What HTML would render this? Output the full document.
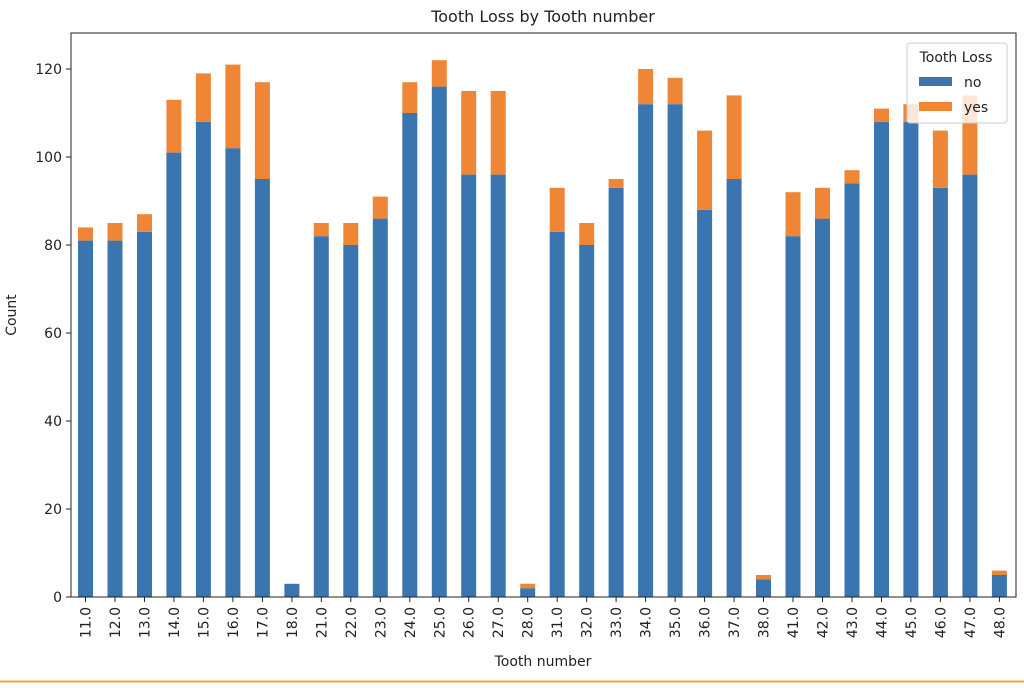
<!DOCTYPE html>
<html><head><meta charset="utf-8"><style>
body{margin:0;background:#fff;}
svg text{font-family:"DejaVu Sans","Liberation Sans",sans-serif;fill:#222;}
</style></head><body>
<svg width="1024" height="683" viewBox="0 0 1024 683" xmlns="http://www.w3.org/2000/svg">
<rect width="1024" height="683" fill="#fff"/>
<text x="543" y="22" font-size="16" text-anchor="middle">Tooth Loss by Tooth number</text>
<g transform="translate(0,597) scale(1,-4.4)">
<g fill="#3a75af">
<rect x="78" y="0" width="15" height="81"/>
<rect x="107.5" y="0" width="15" height="81"/>
<rect x="137" y="0" width="15" height="83"/>
<rect x="166.4" y="0" width="15" height="101"/>
<rect x="195.9" y="0" width="15" height="108"/>
<rect x="225.4" y="0" width="15" height="102"/>
<rect x="254.9" y="0" width="15" height="95"/>
<rect x="284.4" y="0" width="15" height="3"/>
<rect x="313.8" y="0" width="15" height="82"/>
<rect x="343.3" y="0" width="15" height="80"/>
<rect x="372.8" y="0" width="15" height="86"/>
<rect x="402.3" y="0" width="15" height="110"/>
<rect x="431.8" y="0" width="15" height="116"/>
<rect x="461.2" y="0" width="15" height="96"/>
<rect x="490.7" y="0" width="15" height="96"/>
<rect x="520.2" y="0" width="15" height="2"/>
<rect x="549.7" y="0" width="15" height="83"/>
<rect x="579.2" y="0" width="15" height="80"/>
<rect x="608.6" y="0" width="15" height="93"/>
<rect x="638.1" y="0" width="15" height="112"/>
<rect x="667.6" y="0" width="15" height="112"/>
<rect x="697.1" y="0" width="15" height="88"/>
<rect x="726.6" y="0" width="15" height="95"/>
<rect x="756" y="0" width="15" height="4"/>
<rect x="785.5" y="0" width="15" height="82"/>
<rect x="815" y="0" width="15" height="86"/>
<rect x="844.5" y="0" width="15" height="94"/>
<rect x="874" y="0" width="15" height="108"/>
<rect x="903.4" y="0" width="15" height="108"/>
<rect x="932.9" y="0" width="15" height="93"/>
<rect x="962.4" y="0" width="15" height="96"/>
<rect x="991.9" y="0" width="15" height="5"/>
</g>
<g fill="#ef8636">
<rect x="78" y="81" width="15" height="3"/>
<rect x="107.5" y="81" width="15" height="4"/>
<rect x="137" y="83" width="15" height="4"/>
<rect x="166.4" y="101" width="15" height="12"/>
<rect x="195.9" y="108" width="15" height="11"/>
<rect x="225.4" y="102" width="15" height="19"/>
<rect x="254.9" y="95" width="15" height="22"/>
<rect x="313.8" y="82" width="15" height="3"/>
<rect x="343.3" y="80" width="15" height="5"/>
<rect x="372.8" y="86" width="15" height="5"/>
<rect x="402.3" y="110" width="15" height="7"/>
<rect x="431.8" y="116" width="15" height="6"/>
<rect x="461.2" y="96" width="15" height="19"/>
<rect x="490.7" y="96" width="15" height="19"/>
<rect x="520.2" y="2" width="15" height="1"/>
<rect x="549.7" y="83" width="15" height="10"/>
<rect x="579.2" y="80" width="15" height="5"/>
<rect x="608.6" y="93" width="15" height="2"/>
<rect x="638.1" y="112" width="15" height="8"/>
<rect x="667.6" y="112" width="15" height="6"/>
<rect x="697.1" y="88" width="15" height="18"/>
<rect x="726.6" y="95" width="15" height="19"/>
<rect x="756" y="4" width="15" height="1"/>
<rect x="785.5" y="82" width="15" height="10"/>
<rect x="815" y="86" width="15" height="7"/>
<rect x="844.5" y="94" width="15" height="3"/>
<rect x="874" y="108" width="15" height="3"/>
<rect x="903.4" y="108" width="15" height="4"/>
<rect x="932.9" y="93" width="15" height="13"/>
<rect x="962.4" y="96" width="15" height="18"/>
<rect x="991.9" y="5" width="15" height="1"/>
</g>
</g>
<rect x="71" y="33" width="945" height="564" fill="none" stroke="#222" stroke-width="1"/>
<g stroke="#222" stroke-width="1">
<line x1="66" y1="597" x2="71" y2="597"/><line x1="66" y1="509" x2="71" y2="509"/><line x1="66" y1="421" x2="71" y2="421"/><line x1="66" y1="333" x2="71" y2="333"/><line x1="66" y1="245" x2="71" y2="245"/><line x1="66" y1="157" x2="71" y2="157"/><line x1="66" y1="69" x2="71" y2="69"/>
</g>
<g font-size="14" text-anchor="end">
<text x="62" y="602">0</text><text x="62" y="514">20</text><text x="62" y="426">40</text><text x="62" y="338">60</text><text x="62" y="250">80</text><text x="62" y="162">100</text><text x="62" y="74">120</text>
</g>
<g stroke="#222" stroke-width="1">
<line x1="85.5" y1="597" x2="85.5" y2="602"/><line x1="115" y1="597" x2="115" y2="602"/><line x1="144.5" y1="597" x2="144.5" y2="602"/><line x1="173.9" y1="597" x2="173.9" y2="602"/><line x1="203.4" y1="597" x2="203.4" y2="602"/><line x1="232.9" y1="597" x2="232.9" y2="602"/><line x1="262.4" y1="597" x2="262.4" y2="602"/><line x1="291.9" y1="597" x2="291.9" y2="602"/><line x1="321.3" y1="597" x2="321.3" y2="602"/><line x1="350.8" y1="597" x2="350.8" y2="602"/><line x1="380.3" y1="597" x2="380.3" y2="602"/><line x1="409.8" y1="597" x2="409.8" y2="602"/><line x1="439.3" y1="597" x2="439.3" y2="602"/><line x1="468.7" y1="597" x2="468.7" y2="602"/><line x1="498.2" y1="597" x2="498.2" y2="602"/><line x1="527.7" y1="597" x2="527.7" y2="602"/><line x1="557.2" y1="597" x2="557.2" y2="602"/><line x1="586.7" y1="597" x2="586.7" y2="602"/><line x1="616.1" y1="597" x2="616.1" y2="602"/><line x1="645.6" y1="597" x2="645.6" y2="602"/><line x1="675.1" y1="597" x2="675.1" y2="602"/><line x1="704.6" y1="597" x2="704.6" y2="602"/><line x1="734.1" y1="597" x2="734.1" y2="602"/><line x1="763.5" y1="597" x2="763.5" y2="602"/><line x1="793" y1="597" x2="793" y2="602"/><line x1="822.5" y1="597" x2="822.5" y2="602"/><line x1="852" y1="597" x2="852" y2="602"/><line x1="881.5" y1="597" x2="881.5" y2="602"/><line x1="910.9" y1="597" x2="910.9" y2="602"/><line x1="940.4" y1="597" x2="940.4" y2="602"/><line x1="969.9" y1="597" x2="969.9" y2="602"/><line x1="999.4" y1="597" x2="999.4" y2="602"/>
</g>
<g font-size="14" text-anchor="end">
<text transform="translate(90.5,607) rotate(-90)">11.0</text>
<text transform="translate(120,607) rotate(-90)">12.0</text>
<text transform="translate(149.5,607) rotate(-90)">13.0</text>
<text transform="translate(178.9,607) rotate(-90)">14.0</text>
<text transform="translate(208.4,607) rotate(-90)">15.0</text>
<text transform="translate(237.9,607) rotate(-90)">16.0</text>
<text transform="translate(267.4,607) rotate(-90)">17.0</text>
<text transform="translate(296.9,607) rotate(-90)">18.0</text>
<text transform="translate(326.3,607) rotate(-90)">21.0</text>
<text transform="translate(355.8,607) rotate(-90)">22.0</text>
<text transform="translate(385.3,607) rotate(-90)">23.0</text>
<text transform="translate(414.8,607) rotate(-90)">24.0</text>
<text transform="translate(444.3,607) rotate(-90)">25.0</text>
<text transform="translate(473.7,607) rotate(-90)">26.0</text>
<text transform="translate(503.2,607) rotate(-90)">27.0</text>
<text transform="translate(532.7,607) rotate(-90)">28.0</text>
<text transform="translate(562.2,607) rotate(-90)">31.0</text>
<text transform="translate(591.7,607) rotate(-90)">32.0</text>
<text transform="translate(621.1,607) rotate(-90)">33.0</text>
<text transform="translate(650.6,607) rotate(-90)">34.0</text>
<text transform="translate(680.1,607) rotate(-90)">35.0</text>
<text transform="translate(709.6,607) rotate(-90)">36.0</text>
<text transform="translate(739.1,607) rotate(-90)">37.0</text>
<text transform="translate(768.5,607) rotate(-90)">38.0</text>
<text transform="translate(798,607) rotate(-90)">41.0</text>
<text transform="translate(827.5,607) rotate(-90)">42.0</text>
<text transform="translate(857,607) rotate(-90)">43.0</text>
<text transform="translate(886.5,607) rotate(-90)">44.0</text>
<text transform="translate(915.9,607) rotate(-90)">45.0</text>
<text transform="translate(945.4,607) rotate(-90)">46.0</text>
<text transform="translate(974.9,607) rotate(-90)">47.0</text>
<text transform="translate(1004.4,607) rotate(-90)">48.0</text>
</g>
<text x="543" y="666" font-size="14" text-anchor="middle">Tooth number</text>
<text transform="translate(16,315) rotate(-90)" font-size="14" text-anchor="middle">Count</text>
<rect x="907" y="43" width="100" height="80" rx="3" fill="#fff" fill-opacity="0.8" stroke="#ccc"/>
<text x="956" y="62" font-size="14" text-anchor="middle">Tooth Loss</text>
<rect x="919" y="77" width="33" height="9" fill="#3a75af"/>
<text x="964" y="87" font-size="14">no</text>
<rect x="919" y="102" width="33" height="9" fill="#ef8636"/>
<text x="964" y="112" font-size="14">yes</text>
<line x1="0" y1="681.5" x2="1024" y2="681.5" stroke="#f5a23c" stroke-width="2"/>
</svg>
</body></html>
